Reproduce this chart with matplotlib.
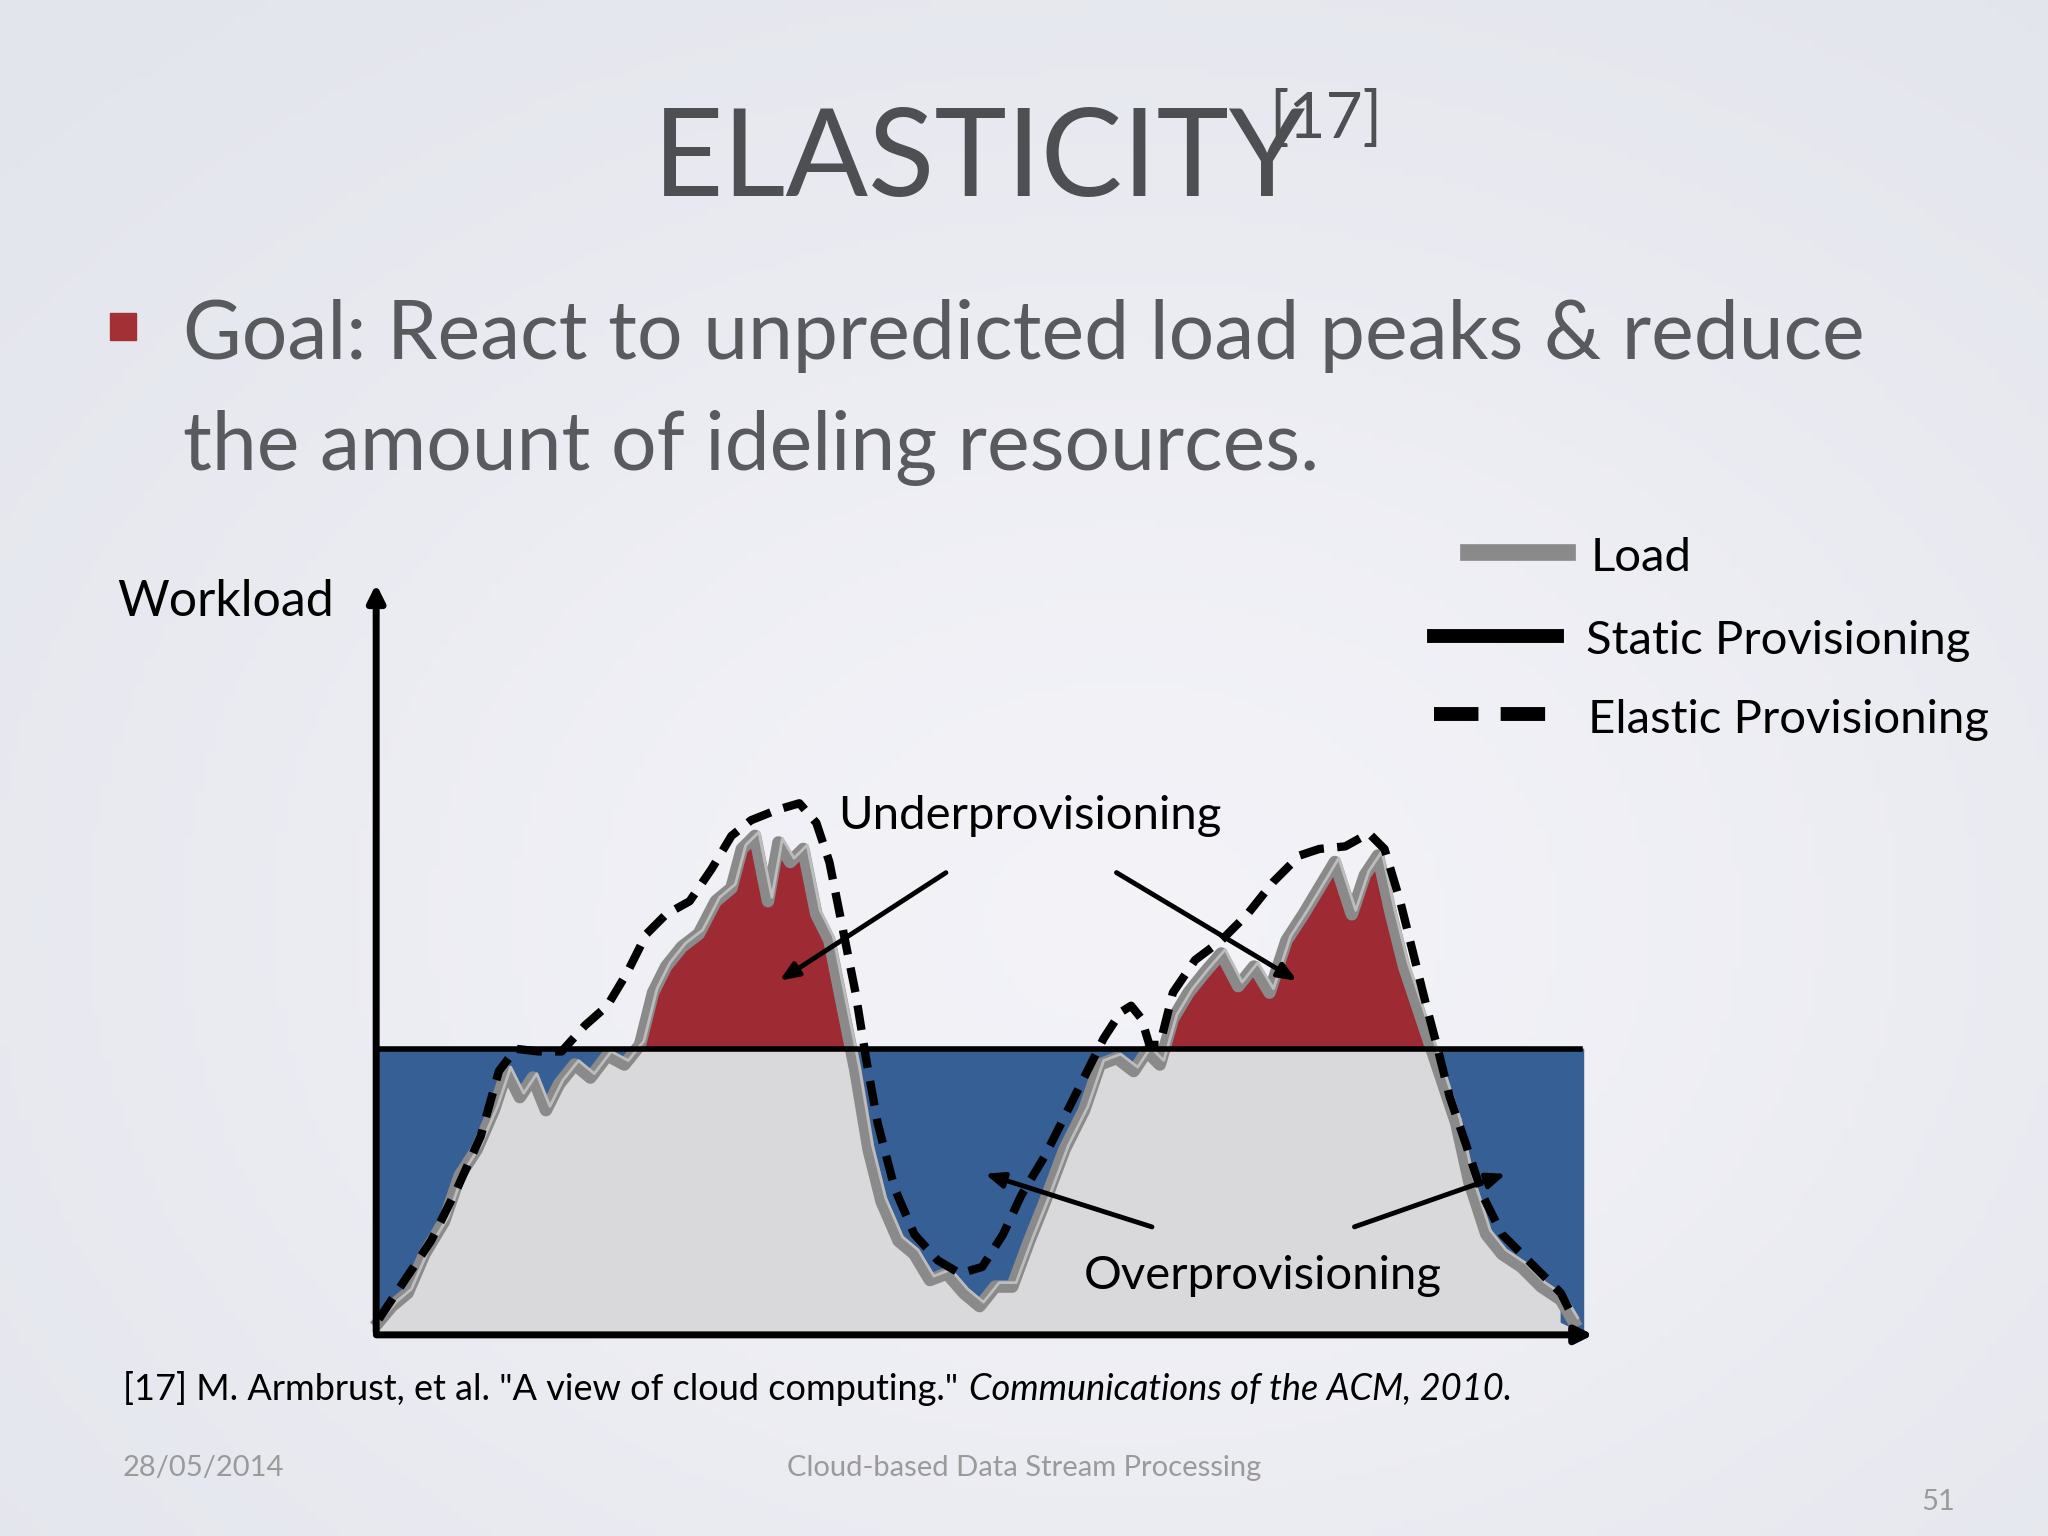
import numpy as np
import matplotlib
matplotlib.use("Agg")
import matplotlib.pyplot as plt

plt.rcParams["font.family"] = ["Lato", "DejaVu Sans"]

# slide coordinates (1568 x 1176 reference grid, y grows downward)
load_x = [290, 300, 312, 325, 340, 352, 365, 378, 388, 398, 408, 418, 428, 440, 452, 465, 478, 490,
          500, 510, 522, 535, 548, 560, 568, 578, 588, 596, 605, 615, 625, 635, 645, 655, 665, 675,
          688, 700, 712, 725, 738, 750, 762, 775, 788, 800, 815, 830, 842, 855, 868, 878, 888, 898,
          910, 922, 935, 948, 960, 972, 985, 998, 1010, 1022, 1035, 1045, 1055, 1065, 1075, 1085,
          1095, 1105, 1115, 1125, 1138, 1150, 1165, 1180, 1195, 1205]
load_y = [1012, 1000, 990, 960, 935, 900, 880, 850, 820, 840, 825, 850, 830, 815, 825, 808, 815, 800,
          760, 740, 725, 715, 690, 680, 650, 640, 690, 645, 660, 650, 700, 720, 770, 820, 880, 920,
          950, 960, 980, 975, 990, 1000, 985, 985, 950, 920, 880, 850, 815, 810, 820, 805, 815, 780,
          760, 745, 730, 755, 740, 760, 720, 700, 680, 660, 700, 670, 655, 700, 740, 770, 800, 830,
          860, 905, 945, 960, 970, 985, 995, 1012]
elastic_x = [290, 310, 330, 350, 368, 382, 395, 412, 430, 448, 465, 480, 495, 510, 528, 545, 560,
             575, 595, 612, 625, 635, 645, 655, 663, 672, 685, 700, 718, 735, 752, 768, 782, 800,
             815, 830, 845, 858, 866, 874, 880, 888, 898, 915, 935, 955, 975, 995, 1010, 1030, 1048,
             1060, 1072, 1082, 1092, 1100, 1110, 1122, 1135, 1150, 1165, 1180, 1195, 1205]
elastic_y = [1010, 980, 950, 910, 870, 820, 803, 805, 805, 785, 770, 745, 715, 700, 690, 665, 640,
             628, 620, 615, 630, 660, 710, 760, 810, 860, 910, 945, 965, 975, 970, 945, 915, 885,
             855, 825, 795, 775, 770, 780, 800, 800, 760, 735, 720, 700, 675, 655, 650, 648, 638,
             650, 690, 730, 770, 800, 840, 875, 915, 945, 960, 975, 990, 1010]
static_level = 803
baseline = 1020

fig = plt.figure(figsize=(20.48, 15.36), dpi=100)
ax = fig.add_axes([0, 0, 1, 1])
ax.set_xlim(0, 1568)
ax.set_ylim(1176, 0)
ax.axis("off")

# background gradient (light bluish grey, brighter in the middle)
gx, gy = np.meshgrid(np.linspace(0, 1, 200), np.linspace(0, 1, 200))
w = np.exp(-((gx - 0.55) ** 2 + (gy - 0.6) ** 2) * 3)[..., None]
edge = np.array([0.88, 0.89, 0.92])
mid = np.array([0.95, 0.95, 0.97])
bg = edge * (1 - w) + mid * w
ax.imshow(bg, extent=[0, 1568, 1176, 0], zorder=0, aspect="auto")

ax.text(500, 150, "ELASTICITY", ha="left", va="baseline", fontsize=88, color="#4d4f53")
ax.text(972, 106, "[17]", ha="left", va="baseline", fontsize=46, color="#4d4f53")

ax.add_patch(plt.Rectangle((84, 240), 20, 20, color="#a33035", zorder=3))
ax.text(140, 275, "Goal: React to unpredicted load peaks & reduce", fontsize=58, color="#595a5e",
        va="baseline")
ax.text(140, 360, "the amount of ideling resources.", fontsize=58, color="#595a5e",
        va="baseline")

lx = np.array(load_x, float)
ly = np.array(load_y, float)
ax.fill_between(lx, ly, baseline, color="#d9d8db", zorder=2)
ax.fill_between(lx, ly, static_level, where=ly >= static_level, interpolate=True,
                color="#355f95", zorder=2)
ax.fill_between(lx, ly, static_level, where=ly <= static_level, interpolate=True,
                color="#9e2a33", zorder=2)
ax.fill_between([1195, 1212], [static_level, static_level], [1012, baseline], color="#355f95", zorder=2)
ax.plot(lx, ly, color="#8a8a8a", lw=9, zorder=3, solid_joinstyle="round")
ax.plot(lx + 3, ly - 3, color="#bdbdbd", lw=2, zorder=3)
ax.plot([290, 1210], [static_level, static_level], color="black", lw=4, zorder=4)
ax.plot(elastic_x, elastic_y, color="black", lw=6, ls=(0, (3, 1.6)), zorder=5)

# axes arrows
ax.annotate("", xy=(288, 445), xytext=(288, 1022),
            arrowprops=dict(arrowstyle="-|>,head_width=0.5,head_length=1", lw=5, color="black"), zorder=6)
ax.annotate("", xy=(1222, 1022), xytext=(286, 1022),
            arrowprops=dict(arrowstyle="-|>,head_width=0.5,head_length=1", lw=5, color="black"), zorder=6)
ax.text(90, 472, "Workload", fontsize=36, color="black", va="baseline")

# callouts
arrow = dict(arrowstyle="-|>,head_width=0.45,head_length=1.1", lw=3.5, color="black")
ax.text(642, 635, "Underprovisioning", fontsize=34, va="baseline")
ax.annotate("", xy=(595, 752), xytext=(726, 667), arrowprops=arrow, zorder=7)
ax.annotate("", xy=(995, 752), xytext=(853, 667), arrowprops=arrow, zorder=7)
ax.text(830, 987, "Overprovisioning", fontsize=34, va="baseline")
ax.annotate("", xy=(752, 898), xytext=(884, 940), arrowprops=arrow, zorder=7)
ax.annotate("", xy=(1155, 898), xytext=(1035, 940), arrowprops=arrow, zorder=7)

# legend
ax.plot([1124, 1200], [423, 423], color="#8a8a8a", lw=12)
ax.text(1218, 437, "Load", fontsize=34, va="baseline")
ax.plot([1098, 1192], [487, 487], color="black", lw=10)
ax.text(1214, 501, "Static Provisioning", fontsize=34, va="baseline")
ax.plot([1098, 1192], [547, 547], color="black", lw=10, ls=(0, (3.2, 1.6)))
ax.text(1216, 561, "Elastic Provisioning", fontsize=34, va="baseline")

ax.text(94, 1072, '[17] M. Armbrust, et al. "A view of cloud computing."', fontsize=26,
        va="baseline")
ax.text(742, 1072, "Communications of the ACM, 2010.", fontsize=26, fontstyle="italic",
        va="baseline")
ax.text(94, 1130, "28/05/2014", fontsize=21, color="#9a9a9a", va="baseline")
ax.text(784, 1130, "Cloud-based Data Stream Processing", fontsize=21, color="#9a9a9a",
        ha="center", va="baseline")
ax.text(1497, 1156, "51", fontsize=21, color="#9a9a9a", ha="right", va="baseline")

fig.savefig("out.png", dpi=100)
